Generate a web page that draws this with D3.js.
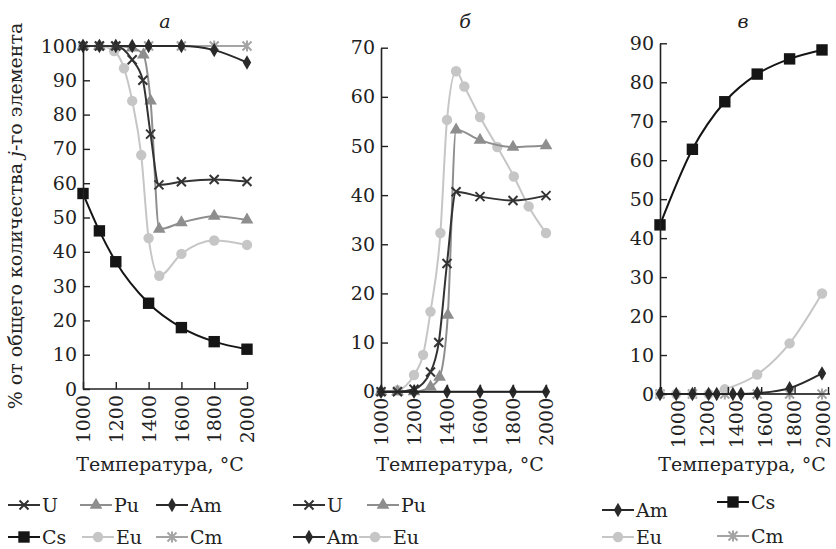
<!DOCTYPE html>
<html><head><meta charset="utf-8">
<script src="https://cdn.jsdelivr.net/npm/d3@7"></script>
<style>
body{margin:0;background:#fff}
text{font-family:"DejaVu Serif",serif;fill:#222}
</style>
</head><body>
<svg id="chart" width="836" height="549"></svg>
<script>
const xTickValues=[1000,1200,1400,1600,1800,2000];
const panelTitles=["а","б","в"];
const xTitle="Температура, °C";
// Panel a
const aU=[[1000,100],[1100,100],[1200,100],[1300,96],[1365,90],[1412,74.3],[1463,59.5],[1600,60.4],[1800,61.1],[2000,60.5]];
const aPu=[[1000,100],[1100,100],[1200,100],[1300,99.5],[1368,97.4],[1412,84],[1465,46.6],[1600,48.5],[1800,50.4],[2000,49.3]];
const aAm=[[1000,100],[1100,100],[1200,100],[1300,100],[1400,100],[1600,100],[1800,98.8],[2000,95.2]];
const aCs=[[1000,57],[1100,46.1],[1200,37.1],[1400,25],[1600,17.9],[1800,13.8],[2000,11.6]];
const aEu=[[1000,100],[1100,100],[1190,98.5],[1250,93.5],[1300,84],[1355,68.2],[1400,44],[1465,33],[1600,39.4],[1800,43.3],[2000,42]];
const aCm=[[1000,100],[1100,100],[1200,100],[1400,100],[1600,100],[1800,100],[2000,100]];
// Panel b
const bU=[[1000,0],[1100,0],[1200,0.5],[1300,4],[1350,10],[1400,26.1],[1455,40.7],[1600,39.7],[1800,38.9],[2000,39.9]];
const bPu=[[1000,0],[1100,0],[1200,0],[1300,1],[1355,3],[1405,15.6],[1455,53.3],[1600,51.2],[1800,49.8],[2000,50.1]];
const bAm=[[1000,0],[1200,0],[1400,0],[1600,0],[1800,0],[2000,0]];
const bEu=[[1000,0],[1100,0.3],[1200,3.4],[1255,7.5],[1300,16.3],[1360,32.3],[1400,55.3],[1455,65.2],[1505,62.1],[1600,55.9],[1705,49.8],[1805,43.8],[1895,37.7],[2000,32.3]];
// Panel c
const cAm=[[1000,0],[1100,0],[1200,0],[1300,0],[1350,0],[1450,0],[1500,0],[1600,0.2],[1800,1.5],[2000,5.3]];
const cCs=[[1000,43.4],[1200,62.8],[1400,75],[1600,82.1],[1800,86],[2000,88.3]];
const cEu=[[1000,0],[1100,0],[1200,0],[1300,0],[1400,1.2],[1600,5],[1800,13],[2000,25.8]];
const cCm=[[1000,0],[1200,0],[1400,0],[1600,0],[1800,0],[2000,0]];

const style={
  U:{color:"#333",sym:"x"},
  Pu:{color:"#8e8e8e",sym:"tri"},
  Am:{color:"#2a2a2a",sym:"dia"},
  Cs:{color:"#151515",sym:"sq"},
  Eu:{color:"#c6c6c6",sym:"circ"},
  Cm:{color:"#a4a4a4",sym:"ast"}
};
const FONT='"DejaVu Serif",serif';
const FS=19;
const svg=d3.select("#chart");

function marker(g,sym,color,x,y){
  if(sym==="x"||sym==="ast"){
    let d="M-4.5,-4.5L4.5,4.5M-4.5,4.5L4.5,-4.5";
    if(sym==="ast") d+="M0,-5.5L0,5.5";
    g.append("path").attr("d",d).attr("transform",`translate(${x},${y})`)
      .attr("stroke",color).attr("stroke-width",2).attr("fill","none");
  } else {
    const t={tri:d3.symbolTriangle,dia:d3.symbolDiamond,sq:d3.symbolSquare,circ:d3.symbolCircle}[sym];
    const s={tri:70,dia:60,sq:130,circ:85}[sym];
    g.append("path").attr("d",d3.symbol(t,s)()).attr("transform",`translate(${x},${y})`)
      .attr("fill",color);
  }
}

function panel(cfg){
  const g=svg.append("g");
  const x=d3.scaleLinear().domain([1000,2000]).range(cfg.xr);
  const y=d3.scaleLinear().domain([0,cfg.ymax]).range(cfg.yr);
  const line=d3.line().x(d=>x(d[0])).y(d=>y(d[1])).curve(d3.curveMonotoneX);
  cfg.series.forEach(([name,data])=>{
    const st=style[name];
    g.append("path").datum(data).attr("d",line).attr("fill","none")
      .attr("stroke",st.color).attr("stroke-width",2);
    data.forEach(d=>marker(g,st.sym,st.color,x(d[0]),y(d[1])));
  });
  const ya=g.append("g").attr("transform",`translate(${cfg.xr[0]},0)`)
    .call(d3.axisLeft(y).tickValues(d3.range(0,cfg.ymax+1,10)).tickSizeInner(-7).tickSizeOuter(0).tickPadding(6));
  ya.select(".domain").attr("stroke","#222").attr("stroke-width",1.6);
  ya.selectAll(".tick line").attr("stroke","#222").attr("stroke-width",1.4);
  ya.selectAll("text").attr("font-size",FS).attr("font-family",FONT).attr("fill","#222");
  const xt=x.copy().range(cfg.tickR||cfg.xr);
  const xl=x.copy().range(cfg.labR||cfg.tickR||cfg.xr);
  const xa=g.append("g").attr("transform",`translate(0,${cfg.yr[0]})`)
    .call(d3.axisBottom(xt).tickValues(xTickValues).tickFormat(d3.format("d")).tickSizeInner(-7).tickSizeOuter(0).tickPadding(6));
  xa.select(".domain").attr("d",`M${cfg.xr[0]},0H${cfg.xEnd||(cfg.tickR||cfg.xr)[1]}`)
    .attr("stroke","#222").attr("stroke-width",1.6);
  xa.selectAll(".tick line").attr("stroke","#222").attr("stroke-width",1.4);
  xa.selectAll(".tick text").attr("font-size",FS).attr("font-family",FONT).attr("fill","#222")
    .attr("transform",d=>`translate(${xl(d)-xt(d)},0) rotate(-90)`).attr("text-anchor","end").attr("x",-6).attr("y",0).attr("dy","0.35em");
  g.append("text").attr("x",cfg.tx).attr("y",28).attr("text-anchor","middle")
    .attr("font-size",FS).attr("font-style","italic").text(cfg.title);
  g.append("text").attr("x",cfg.lx).attr("y",471).attr("text-anchor","middle")
    .attr("font-size",FS).text(xTitle);
  cfg.legend.forEach(([name,lx,ly])=>{
    const st=style[name];
    g.append("line").attr("x1",lx).attr("x2",lx+32).attr("y1",ly).attr("y2",ly)
      .attr("stroke",st.color).attr("stroke-width",2);
    marker(g,st.sym,st.color,lx+16,ly);
    g.append("text").attr("x",lx+34).attr("y",ly+7).attr("font-size",FS).text(name);
  });
}

panel({xr:[83,247],yr:[389,46],ymax:100,title:panelTitles[0],tx:165,lx:160,
  series:[["Cm",aCm],["Eu",aEu],["Pu",aPu],["Am",aAm],["U",aU],["Cs",aCs]],
  legend:[["U",8,505],["Pu",80,505],["Am",156,505],["Cs",8,537],["Eu",82,537],["Cm",156,537]]});
panel({xr:[381,546],yr:[391.7,47.7],ymax:70,title:panelTitles[1],tx:465,lx:460,
  series:[["Eu",bEu],["Pu",bPu],["U",bU],["Am",bAm]],
  legend:[["U",293,505],["Pu",367,505],["Am",293,537],["Eu",359,537]]});
panel({xr:[660,822],tickR:[661,828],labR:[678,823],yr:[394,43.3],ymax:90,title:panelTitles[2],tx:743,lx:742,xEnd:830,
  series:[["Cm",cCm],["Eu",cEu],["Am",cAm],["Cs",cCs]],
  legend:[["Am",602,510],["Cs",717,502],["Eu",602,537],["Cm",717,536]]});

svg.append("text").attr("transform","translate(22,216) rotate(-90)").attr("text-anchor","middle")
  .attr("font-size",FS)
  .call(t=>{t.append("tspan").text("% от общего количества ");t.append("tspan").attr("font-style","italic").text("j");t.append("tspan").text("-го элемента");});
</script>
</body></html>
